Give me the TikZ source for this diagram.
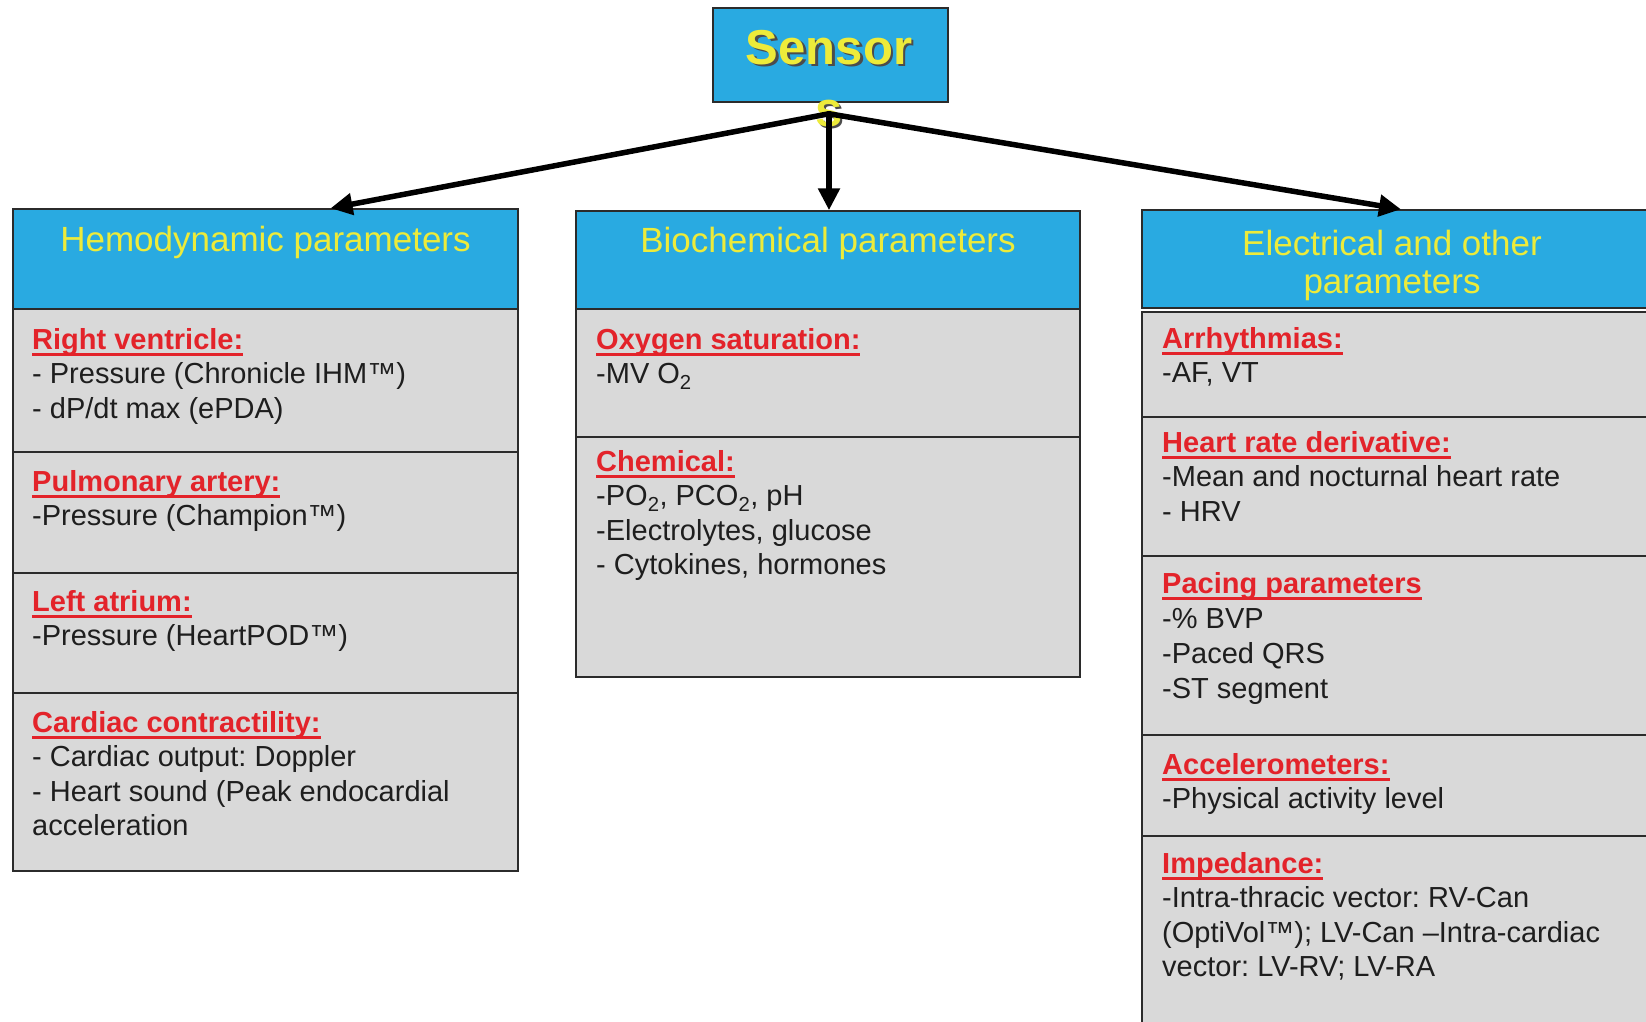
\documentclass[tikz,border=0pt]{standalone}
\usepackage{fontspec}
\setmainfont{Liberation Sans}
\usetikzlibrary{arrows.meta}
\definecolor{headblue}{HTML}{29AAE1}
\definecolor{headyellow}{HTML}{EDEB3A}
\definecolor{secgray}{HTML}{D9D9D9}
\definecolor{titlered}{HTML}{E3232A}
\definecolor{textdark}{HTML}{1E1E1E}
\definecolor{framedark}{HTML}{2B2B2B}
\newcommand{\redtitle}[1]{\setbox0\hbox{#1}\rlap{\rule[-7pt]{\wd0}{2.6pt}}\box0}
\frenchspacing

\begin{document}
\begin{tikzpicture}[x=1pt,y=-1pt,
  headbox/.style={draw=framedark,line width=1.5pt,fill=headblue,inner sep=0pt},
  secbox/.style={draw=framedark,line width=2pt,fill=secgray},
  headtxt/.style={font=\fontsize{35}{37}\selectfont,text=headyellow,anchor=base,inner sep=0pt},
  sensortxt/.style={font=\fontsize{49}{60}\selectfont\bfseries,anchor=base,inner sep=0pt},
  sectitle/.style={font=\fontsize{29}{34}\selectfont\bfseries,text=titlered,anchor=base west,inner sep=0pt},
  secitem/.style={font=\fontsize{29}{34}\selectfont,text=textdark,anchor=base west,inner sep=0pt},
  link/.style={line width=5.5pt,line cap=round,-{Triangle[length=22pt,width=21pt]}}]
\useasboundingbox[fill=white] (0,0) rectangle (1646,1021);

% top box
\node[headbox,minimum width=235pt,minimum height=94pt] (sensor) at (830.5,55) {};
\node[sensortxt,text=black!70] (sensorshade) at (831.5,66) {Sensor};
\node[sensortxt,text=headyellow] (sensorname) at (829,64) {Sensor};
\node[sensortxt,text=black!70] (tailshade) at (831,128) {s};
\node[sensortxt,text=headyellow] (tail) at (829,126) {s};

% column heads
\node[headbox,minimum width=505pt,minimum height=100pt] (hemo) at (265.5,259) {};
\node[headbox,minimum width=504pt,minimum height=98pt] (bio) at (828,260) {};
\node[headbox,minimum width=512pt,minimum height=98pt] (elec) at (1398,259) {};
\node[headtxt] (hemotxt) at (265.5,251) {Hemodynamic parameters};
\node[headtxt] (biotxt) at (828,252) {Biochemical parameters};
\node[headtxt] (electxta) at (1392,255) {Electrical and other};
\node[headtxt] (electxtb) at (1392,293) {parameters};

% sections
\draw[secbox] (13,309) rectangle (518,452);
\draw[secbox] (13,452) rectangle (518,573);
\draw[secbox] (13,573) rectangle (518,693);
\draw[secbox] (13,693) rectangle (518,871);
\draw[secbox] (576,309) rectangle (1080,437);
\draw[secbox] (576,437) rectangle (1080,677);
\draw[secbox] (1142,312) rectangle (1660,417);
\draw[secbox] (1142,417) rectangle (1660,556);
\draw[secbox] (1142,556) rectangle (1660,735);
\draw[secbox] (1142,735) rectangle (1660,836);
\draw[secbox] (1142,836) rectangle (1660,1040);

% left column
\node[sectitle] (rv) at (32,349) {\redtitle{Right ventricle:}};
\foreach \entry [count=\k] in {{- Pressure (Chronicle IHM™)},{- dP/dt max (ePDA)}}
  \node[secitem] (rv-\k) at (32,{349+34.5*\k}) {\entry};
\node[sectitle] (pa) at (32,491) {\redtitle{Pulmonary artery:}};
\node[secitem] (pa-1) at (32,525.5) {-Pressure (Champion™)};
\node[sectitle] (la) at (32,611) {\redtitle{Left atrium:}};
\node[secitem] (la-1) at (32,645.5) {-Pressure (HeartPOD™)};
\node[sectitle] (cc) at (32,732) {\redtitle{Cardiac contractility:}};
\foreach \entry [count=\k] in {{- Cardiac output: Doppler},{- Heart sound (Peak endocardial},{acceleration}}
  \node[secitem] (cc-\k) at (32,{732+34.5*\k}) {\entry};

% middle column
\node[sectitle] (os) at (596,349) {\redtitle{Oxygen saturation:}};
\node[secitem] (os-1) at (596,383.5) {-MV O\textsubscript{2}};
\node[sectitle] (chem) at (596,471) {\redtitle{Chemical:}};
\foreach \entry [count=\k] in {{-PO\textsubscript{2}, PCO\textsubscript{2}, pH},{-Electrolytes, glucose},{- Cytokines, hormones}}
  \node[secitem] (chem-\k) at (596,{471+34.5*\k}) {\entry};

% right column
\node[sectitle] (arr) at (1162,348) {\redtitle{Arrhythmias:}};
\node[secitem] (arr-1) at (1162,382.5) {-AF, VT};
\node[sectitle] (hr) at (1162,452) {\redtitle{Heart rate derivative:}};
\foreach \entry [count=\k] in {{-Mean and nocturnal heart rate},{- HRV}}
  \node[secitem] (hr-\k) at (1162,{452+34.5*\k}) {\entry};
\node[sectitle] (pace) at (1162,593) {\redtitle{Pacing parameters}};
\foreach \entry [count=\k] in {{-\% BVP},{-Paced QRS},{-ST segment}}
  \node[secitem] (pace-\k) at (1162,{593+35*\k}) {\entry};
\node[sectitle] (acc) at (1162,774) {\redtitle{Accelerometers:}};
\node[secitem] (acc-1) at (1162,808.5) {-Physical activity level};
\node[sectitle] (imp) at (1162,873) {\redtitle{Impedance:}};
\foreach \entry [count=\k] in {{-Intra-thracic vector: RV-Can},{(OptiVol™); LV-Can –Intra-cardiac},{vector: LV-RV; LV-RA}}
  \node[secitem] (imp-\k) at (1162,{873+34.5*\k}) {\entry};

% arrows
\coordinate (fork) at ([xshift=-1.5pt,yshift=-11pt]sensor.south);
\draw[link] (fork) -- ([xshift=65pt]hemo.north);
\draw[link] (fork) -- ([xshift=1pt]bio.north);
\draw[link] (fork) -- ([xshift=3pt]elec.north);

\end{tikzpicture}
\end{document}
